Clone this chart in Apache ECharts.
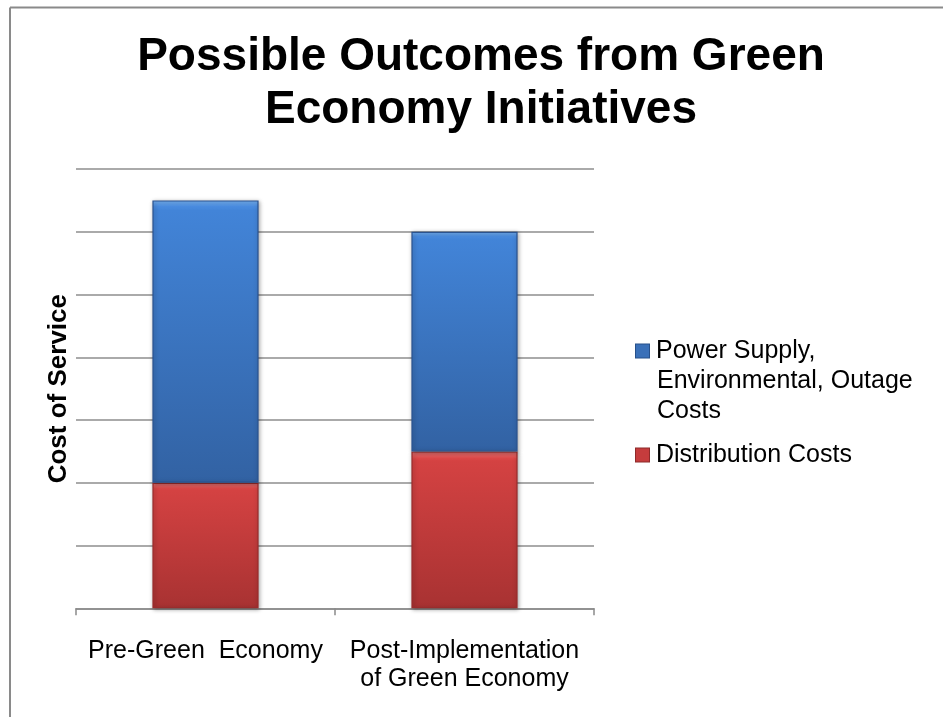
<!DOCTYPE html>
<html><head><meta charset="utf-8">
<script src="https://cdn.jsdelivr.net/npm/echarts@6/dist/echarts.min.js"></script>
<style>html,body{margin:0;padding:0;background:#fff}#c{width:943px;height:717px}</style>
</head><body><div id="c"></div>
<script>
// ---- data ----
const categories = ['Pre-Green  Economy', 'Post-Implementation\nof Green Economy'];
const distributionName = 'Distribution Costs';
const powerName = 'Power Supply, Environmental, Outage Costs';
const distributionCosts = [2, 2.5];
const powerSupplyCosts = [4.5, 3.5];
const yMin = 0, yMax = 7, yInterval = 1;

const FONT = '"Liberation Sans", Arial, sans-serif';
const chart = echarts.init(document.getElementById('c'), null, {renderer: 'canvas'});

function vgrad(stops) {
  return new echarts.graphic.LinearGradient(0, 0, 0, 1, stops.map((c, i) => ({offset: c[0], color: c[1]})));
}

const option = {
  backgroundColor: '#fff',
  animation: false,
  title: {
    text: 'Possible Outcomes from Green\nEconomy Initiatives',
    left: 481, top: 31, textAlign: 'center', padding: 0,
    textStyle: {fontFamily: FONT, fontWeight: 'bold', fontSize: 46, lineHeight: 53, color: '#000'}
  },
  graphic: [
    {type: 'line', shape: {x1: 10, y1: 7.5, x2: 943, y2: 7.5}, style: {stroke: '#8a8a8a', lineWidth: 2}, silent: true},
    {type: 'line', shape: {x1: 10, y1: 7.5, x2: 10, y2: 717}, style: {stroke: '#8a8a8a', lineWidth: 2}, silent: true}
  ],
  legend: {
    orient: 'vertical', left: 616, top: 336, padding: 0, itemGap: 14,
    itemWidth: 14, itemHeight: 14,
    itemStyle: {opacity: 0},
    data: [powerName, distributionName],
    selectedMode: false,
    formatter: function (name) {
      if (name === powerName) {
        return '{sq1|}{t|Power Supply,}\n{i|Environmental, Outage}\n{i|Costs}';
      }
      return '{sq2|}{t|' + name + '}';
    },
    textStyle: {
      fontFamily: FONT, fontSize: 25, color: '#000', lineHeight: 30,
      rich: {
        sq1: {width: 13, height: 13, backgroundColor: '#3a70b8', borderColor: '#27508a', borderWidth: 1, lineHeight: 30},
        sq2: {width: 13, height: 13, backgroundColor: '#c53c3d', borderColor: '#8e2a2a', borderWidth: 1, lineHeight: 30},
        t: {fontFamily: FONT, fontSize: 25, color: '#000', lineHeight: 30, padding: [0, 0, 0, 7]},
        i: {fontFamily: FONT, fontSize: 25, color: '#000', lineHeight: 30, padding: [0, 0, 0, 21]}
      }
    }
  },
  grid: {left: 76, right: 349, top: 169, bottom: 108.7, containLabel: false},
  xAxis: {
    type: 'category', data: categories,
    axisLine: {show: true, lineStyle: {color: '#8a8a8a', width: 1.5}},
    axisTick: {show: true, length: 7, lineStyle: {color: '#8a8a8a', width: 1.5}},
    axisLabel: {fontFamily: FONT, fontSize: 25, color: '#000', lineHeight: 28, margin: 29, interval: 0}
  },
  yAxis: {
    type: 'value', min: yMin, max: yMax, interval: yInterval,
    name: 'Cost of Service', nameLocation: 'middle', nameRotate: 90, nameGap: 4,
    nameTextStyle: {fontFamily: FONT, fontWeight: 'bold', fontSize: 26, color: '#000'},
    axisLine: {show: false}, axisTick: {show: false}, axisLabel: {show: false},
    splitLine: {show: true, lineStyle: {color: '#8e8e8e', width: 1.5}}
  },
  series: [
    {
      name: distributionName, type: 'bar', stack: 'total', data: distributionCosts, barWidth: '41%',
      itemStyle: {
        color: vgrad([[0, '#f07a7a'], [0.045, '#dc4848'], [0.06, '#d44242'], [1, '#a83232']]),
        borderColor: '#9a2c2c', borderWidth: 1.2,
        shadowBlur: 4, shadowColor: 'rgba(0,0,0,0.35)', shadowOffsetX: 1, shadowOffsetY: 1
      },
      emphasis: {disabled: true}
    },
    {
      name: powerName, type: 'bar', stack: 'total', data: powerSupplyCosts, barWidth: '41%',
      itemStyle: {
        color: vgrad([[0, '#76b2f2'], [0.022, '#4a8ce0'], [0.035, '#4284d8'], [1, '#3262a3']]),
        borderColor: '#2a5390', borderWidth: 1.2,
        shadowBlur: 4, shadowColor: 'rgba(0,0,0,0.35)', shadowOffsetX: 1, shadowOffsetY: 1
      },
      emphasis: {disabled: true}
    }
  ]
};
chart.setOption(option);
</script></body></html>
